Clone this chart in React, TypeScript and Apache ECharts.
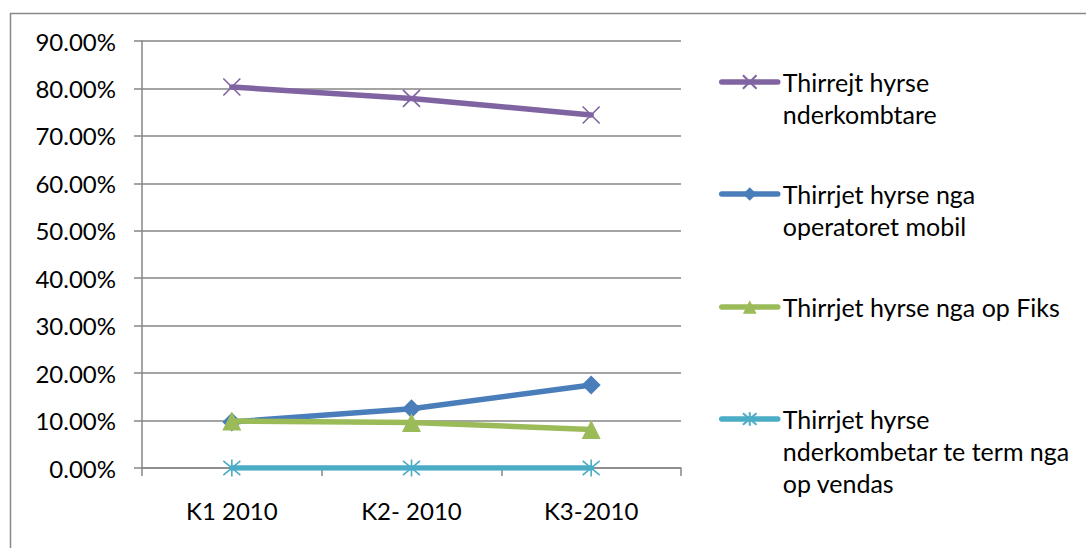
import React, { useEffect, useRef } from "react";
import * as echarts from "echarts";

const categories = ["K1 2010", "K2- 2010", "K3-2010"];
const seriesNames = [
  "Thirrejt hyrse nderkombtare",
  "Thirrjet hyrse nga operatoret mobil",
  "Thirrjet hyrse nga op Fiks",
  "Thirrjet hyrse nderkombetar te term nga op vendas",
];
const legendLabels = [
  "\nThirrejt hyrse\nnderkombtare",
  "\nThirrjet hyrse nga\noperatoret mobil",
  "Thirrjet hyrse nga op Fiks",
  "\n\nThirrjet hyrse\nnderkombetar te term nga\nop vendas",
];
const internationalValues = [0.803, 0.779, 0.744];
const mobileValues = [0.097, 0.125, 0.175];
const fixedValues = [0.099, 0.096, 0.081];
const domesticValues = [0, 0, 0];
const yTicks = [0, 0.1, 0.2, 0.3, 0.4, 0.5, 0.6, 0.7, 0.8, 0.9];

const colors = ["#8064A2", "#4A7EBB", "#9BBB59", "#4BACC6"];
const FONT = "Lato";
const FS = 24;

const crossPath = "path://M0,0L10,10M10,0L0,10";
const starPath = "path://M0,0L10,10M10,0L0,10M5,-1L5,11";

export default function App() {
  const ref = useRef<HTMLDivElement>(null);
  useEffect(() => {
    if (!ref.current) return;
    const chart = echarts.init(ref.current, undefined, { renderer: "svg" });
    const values = [internationalValues, mobileValues, fixedValues, domesticValues];
    const symbols = [crossPath, "diamond", "triangle", starPath];
    const sizes = [17, 19, 19, 17];
    const strokeSymbols = [true, false, false, true];
    const legendTops = [34, 146, 291, 339];

    const series = seriesNames.map((name, i) => ({
      name,
      type: "line",
      data: values[i],
      symbol: symbols[i],
      symbolSize: sizes[i],
      showAllSymbol: true,
      lineStyle: { color: colors[i], width: 5.5, cap: "round" },
      itemStyle: strokeSymbols[i]
        ? { color: "rgba(0,0,0,0)", borderColor: colors[i], borderWidth: 1.6 }
        : { color: colors[i], borderWidth: 0 },
      emphasis: { disabled: true },
      z: 2 + i,
    }));

    const legends = seriesNames.map((name, i) => ({
      data: [name],
      left: 719,
      top: legendTops[i],
      padding: 0,
      orient: "vertical",
      itemWidth: 56,
      itemHeight: 17,
      selectedMode: false,
      lineStyle: { width: 5.5, cap: "round" },
      formatter: () => legendLabels[i],
      textStyle: { fontFamily: FONT, fontSize: 25, lineHeight: 32, color: "#000" },
    }));

    chart.setOption({
      animation: false,
      backgroundColor: "#fff",
      textStyle: { fontFamily: FONT },
      graphic: [
        {
          type: "rect",
          left: 8,
          top: 11,
          shape: { x: 0, y: 0, width: 1200, height: 700 },
          style: { fill: "none", stroke: "#888", lineWidth: 1.5 },
          silent: true,
        },
      ],
      legend: legends,
      grid: { left: 142, top: 41, width: 539, height: 427, containLabel: false },
      xAxis: {
        type: "category",
        data: categories,
        boundaryGap: true,
        axisLine: { show: true, lineStyle: { color: "#868686", width: 1.5 } },
        axisTick: { show: true, length: 8, lineStyle: { color: "#868686", width: 1.5 } },
        axisLabel: { fontFamily: FONT, fontSize: FS, color: "#000", margin: 30 },
        splitLine: { show: false },
      },
      yAxis: {
        type: "value",
        min: yTicks[0],
        max: yTicks[yTicks.length - 1],
        interval: 0.1,
        axisLine: { show: true, lineStyle: { color: "#868686", width: 1.5 } },
        axisTick: { show: true, length: 8, lineStyle: { color: "#868686", width: 1.5 } },
        axisLabel: {
          fontFamily: FONT,
          fontSize: FS,
          color: "#000",
          margin: 26,
          formatter: (v: number) => (v * 100).toFixed(2) + "%",
        },
        splitLine: { show: true, lineStyle: { color: "#868686", width: 1.5 } },
      },
      series,
    });
    return () => chart.dispose();
  }, []);
  return (
    <div
      ref={ref}
      style={{ position: "absolute", left: 0, top: 0, width: 1086, height: 548 }}
    />
  );
}
